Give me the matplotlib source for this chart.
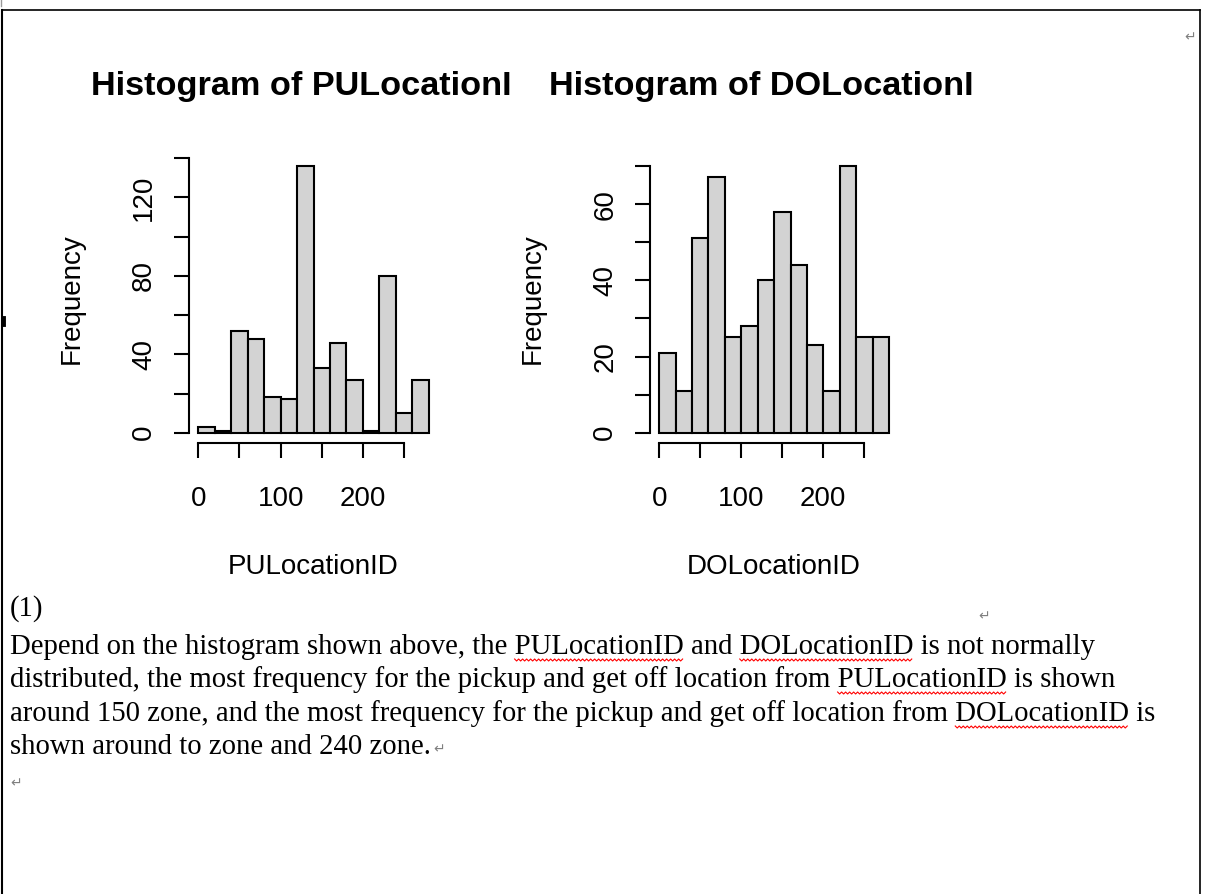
import numpy as np
import matplotlib.pyplot as plt
from matplotlib.transforms import Bbox, TransformedBbox

W, H = 1214, 894

# R hist() breaks and counts
breaks = [0, 20, 40, 60, 80, 100, 120, 140, 160, 180, 200, 220, 240, 260, 280]
pu_counts = [3, 1, 52, 48, 18, 17, 136, 33, 46, 27, 1, 80, 10, 27]
do_counts = [21, 11, 51, 67, 25, 28, 40, 58, 44, 23, 11, 70, 25, 25]

xticks = [0, 50, 100, 150, 200, 250]
xticklabels = ['0', '', '100', '', '200', '']
pu_yticks = [0, 20, 40, 60, 80, 100, 120, 140]
pu_yticklabels = ['0', '', '40', '', '80', '', '120', '']
do_yticks = [0, 10, 20, 30, 40, 50, 60, 70]
do_yticklabels = ['0', '', '20', '', '40', '', '60', '']

titles = ['Histogram of PULocationID', 'Histogram of DOLocationID']
xlabels = ['PULocationID', 'DOLocationID']

paragraph = [
    "Depend on the histogram shown above, the PULocationID and DOLocationID is not normally",
    "distributed, the most frequency for the pickup and get off location from PULocationID is shown",
    "around 150 zone, and the most frequency for the pickup and get off location from DOLocationID is",
    "shown around to zone and 240 zone.",
]
misspelled = ['PULocationID', 'DOLocationID']

fig = plt.figure(figsize=(W / 100, H / 100), dpi=100)

# overlay axes in pixel coords (y down) for the word-document bits
ov = fig.add_axes([0, 0, 1, 1])
ov.set_xlim(0, W)
ov.set_ylim(H, 0)
ov.axis('off')


def px_axes(left, top, right, bottom):
    return fig.add_axes([left / W, 1 - bottom / H, (right - left) / W, (bottom - top) / H])


def r_hist(ax, counts, yticks, yticklabels):
    lo, hi = breaks[0], breaks[-1]
    top = max(counts)
    ax.bar(breaks[:-1], counts, width=np.diff(breaks), align='edge',
           color='#d3d3d3', edgecolor='black', linewidth=1.5)
    ax.set_xlim(lo - 0.04 * (hi - lo), hi + 0.04 * (hi - lo))
    ax.set_ylim(-0.04 * top, 1.04 * top)
    ax.patch.set_visible(False)
    for s in ['top', 'right']:
        ax.spines[s].set_visible(False)
    ax.spines['left'].set_bounds(yticks[0], yticks[-1])
    ax.spines['bottom'].set_bounds(xticks[0], xticks[-1])
    for s in ['left', 'bottom']:
        ax.spines[s].set_linewidth(1.5)
    ax.set_xticks(xticks)
    ax.set_xticklabels(xticklabels, fontsize=20, family='Liberation Sans')
    ax.set_yticks(yticks)
    ax.set_yticklabels(yticklabels, fontsize=20, family='Liberation Sans',
                       rotation=90, va='center')
    ax.tick_params(length=11, width=1.5, color='black')
    ax.tick_params(axis='x', pad=20)
    ax.tick_params(axis='y', pad=12)


panels = [
    (px_axes(189.1, 155.4, 438.0, 443.4), pu_counts, pu_yticks, pu_yticklabels, 48, 511),
    (px_axes(650.1, 155.4, 898.1, 443.4), do_counts, do_yticks, do_yticklabels, 511, 974),
]
for i, (ax, counts, yt, ytl, clip_l, clip_r) in enumerate(panels):
    r_hist(ax, counts, yt, ytl)
    pos = ax.get_position()
    cx = (pos.x0 + pos.x1) / 2 * W
    # R clips the main title to its figure region
    clip = TransformedBbox(Bbox.from_extents(clip_l, 0, clip_r, H), ov.transData)
    t = ov.text(cx, 87, titles[i], ha='center', va='center', fontsize=24.7,
                fontweight='bold', family='Liberation Sans')
    t.set_clip_on(True)
    t.set_clip_box(clip)
    ov.text(cx, 567, xlabels[i], ha='center', va='center', fontsize=20,
            family='Liberation Sans')
    ov.text(pos.x0 * W - 117, 299, 'Frequency', ha='center', va='center',
            rotation=90, fontsize=20, family='Liberation Sans')

# page frame of the word doc
ov.plot([2, 1200], [10, 10], color='black', lw=1.2)
ov.plot([2, 2], [10, H], color='black', lw=1.5)
ov.plot([1200, 1200], [10, H], color='black', lw=1.2)
ov.plot([0.5, 0.5], [0, 6], color='#999999', lw=1)
ov.plot([3, 3], [318, 324], color='black', lw=3.5)

# paragraph text
serif = 'Liberation Serif'
fs = 20.7
ov.text(10, 616, '(1)', fontsize=fs, family=serif, va='baseline')
baselines = [654, 687, 721, 754]
for y, line in zip(baselines, paragraph):
    ov.text(10, y, line, fontsize=fs, family=serif, va='baseline')

# red spell-check squiggles under the column names
fig.canvas.draw()
renderer = fig.canvas.get_renderer()


def text_width(s):
    tmp = ov.text(0, 0, s, fontsize=fs, family=serif)
    bb = tmp.get_window_extent(renderer)
    tmp.remove()
    return bb.width


for y, line in zip(baselines, paragraph):
    for word in misspelled:
        start = line.find(word)
        while start >= 0:
            x0 = 10 + text_width(line[:start])
            x1 = x0 + text_width(word)
            xs = np.arange(x0, x1, 2.0)
            ys = y + 5 + (np.arange(len(xs)) % 2) * 2
            ov.plot(xs, ys, color='red', lw=0.8)
            start = line.find(word, start + 1)
    if line.endswith('zone.'):
        ov.text(10 + text_width(line) + 2, y - 5, '\u21b5', fontsize=10,
                color='#808080', family='DejaVu Sans', va='center')

for x, y in [(1184, 37), (978, 616), (10, 783)]:
    ov.text(x, y, '\u21b5', fontsize=10, color='#808080', family='DejaVu Sans', va='center')

fig.savefig('out.png', dpi=100)
